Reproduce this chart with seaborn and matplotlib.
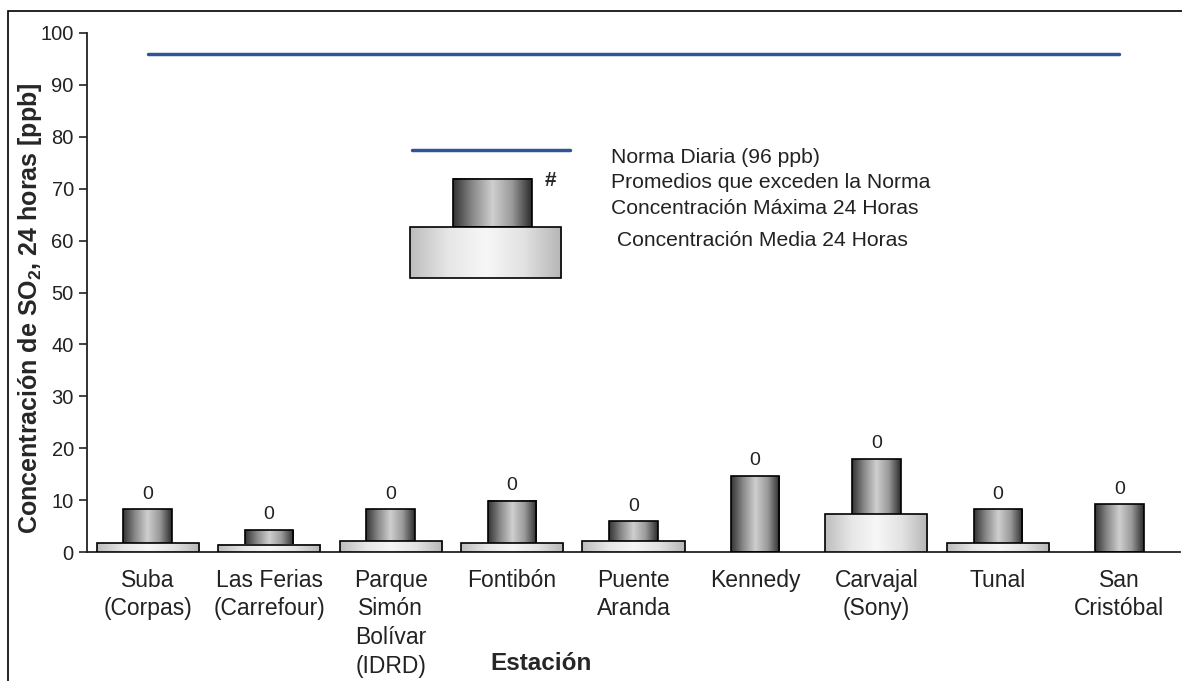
import numpy as np
import pandas as pd
import seaborn as sns
import matplotlib.pyplot as plt
from matplotlib.colors import LinearSegmentedColormap
from matplotlib.patches import Rectangle

# data
estaciones = ['Suba\n(Corpas)', 'Las Ferias\n(Carrefour)', 'Parque\nSimón\nBolívar\n(IDRD)',
              'Fontibón', 'Puente\nAranda', 'Kennedy', 'Carvajal\n(Sony)', 'Tunal', 'San\nCristóbal']
conc_max = [8.2, 4.2, 8.2, 9.9, 5.9, 14.6, 17.9, 8.2, 9.2]
conc_media = [1.7, 1.4, 2.1, 1.7, 2.1, np.nan, 7.3, 1.7, np.nan]
excedencias = [0, 0, 0, 0, 0, 0, 0, 0, 0]
norma = 96

df = pd.DataFrame({'estacion': estaciones, 'max': conc_max, 'media': conc_media})

sns.set_style('white')
plt.rcParams['font.family'] = ['Liberation Sans', 'DejaVu Sans']
plt.rcParams['mathtext.fontset'] = 'custom'
plt.rcParams['mathtext.rm'] = 'Liberation Sans'
plt.rcParams['mathtext.bf'] = 'Liberation Sans:bold'

cmap_max = LinearSegmentedColormap.from_list('mx', ['#333333', '#8a8a8a', '#cfcfcf', '#9a9a9a', '#2b2b2b'])
cmap_med = LinearSegmentedColormap.from_list('md', ['#bdbdbd', '#e6e6e6', '#f7f7f7', '#e2e2e2', '#b5b5b5'])
grad = np.linspace(0, 1, 256).reshape(1, -1)

fig = plt.figure(figsize=(11.82, 6.81), dpi=100)
ax = fig.add_axes([87 / 1182, 1 - 552 / 681, 1093 / 1182, 519 / 681])

# max bars first, mean bars drawn in front of them
sns.barplot(data=df, x='estacion', y='max', width=0.4, color='white', edgecolor='black',
            linewidth=1.2, ax=ax, zorder=3)
n_max = len(ax.patches)
sns.barplot(data=df, x='estacion', y='media', width=0.84, color='white', edgecolor='black',
            linewidth=1.2, ax=ax, zorder=5)

for i, p in enumerate(ax.patches):
    h = p.get_height()
    if not np.isfinite(h) or h <= 0:
        p.set_visible(False)
        continue
    x0, w = p.get_x(), p.get_width()
    is_max = i < n_max
    p.set_facecolor('none')
    ax.imshow(grad, extent=[x0, x0 + w, 0, h], aspect='auto',
              cmap=cmap_max if is_max else cmap_med, zorder=p.get_zorder() - 0.5)

for i, (m, n) in enumerate(zip(conc_max, excedencias)):
    ax.text(i, m + 1.3, str(n), ha='center', va='bottom', fontsize=14, color='#222222')

# daily standard
ax.plot([0, len(estaciones) - 1], [norma, norma], color='#2f5597', lw=2.5, zorder=6)

# hand-made legend
ax.plot([0.297, 0.442], [0.7746, 0.7746], color='#2f5597', lw=2.5, transform=ax.transAxes)
ax.imshow(grad, extent=[0.335, 0.407, 0.626, 0.7187], aspect='auto', cmap=cmap_max,
          transform=ax.transAxes, zorder=3)
ax.add_patch(Rectangle((0.335, 0.626), 0.072, 0.0927, fill=False, ec='black', lw=1.2,
                       transform=ax.transAxes, zorder=3.5))
ax.imshow(grad, extent=[0.2955, 0.4337, 0.528, 0.626], aspect='auto', cmap=cmap_med,
          transform=ax.transAxes, zorder=4)
ax.add_patch(Rectangle((0.2955, 0.528), 0.1382, 0.098, fill=False, ec='black', lw=1.2,
                       transform=ax.transAxes, zorder=4.5))
ax.text(0.4236, 0.716, '#', transform=ax.transAxes, ha='center', va='center',
        fontsize=15, fontweight='bold')
leg_txt = ['Norma Diaria (96 ppb)', 'Promedios que exceden la Norma',
           'Concentración Máxima 24 Horas', ' Concentración Media 24 Horas']
for t, yy in zip(leg_txt, [0.761, 0.711, 0.661, 0.601]):
    ax.text(0.479, yy, t, transform=ax.transAxes, ha='left', va='center',
            fontsize=15.2, color='#222222')

ax.set_xlim(-0.5, len(estaciones) - 0.5)
ax.set_ylim(0, 100)
ax.set_yticks(range(0, 101, 10))
ax.set_xticks(range(len(estaciones)))
ax.set_xticks(np.arange(-0.5, len(estaciones), 1), minor=True)
ax.tick_params(axis='x', which='major', length=0, pad=12, labelsize=16.5, labelcolor='#222222')
ax.tick_params(axis='x', which='minor', length=7, width=1.2, direction='out', color='#222222')
ax.tick_params(axis='y', length=6, width=1.2, direction='out', labelsize=14.5,
               labelcolor='#222222', color='#222222', left=True)
for lab in ax.get_xticklabels():
    lab.set_linespacing(1.32)

sns.despine(ax=ax, top=True, right=True)
for s in ['left', 'bottom']:
    ax.spines[s].set_color('#222222')
    ax.spines[s].set_linewidth(1.3)

ax.set_xlabel('Estación', fontsize=17.5, fontweight='bold')
ax.xaxis.set_label_coords(0.415, -0.192)
ax.set_ylabel(r'Concentración de SO$_\mathbf{2}$, 24 horas [ppb]', fontsize=18, fontweight='bold')
ax.yaxis.set_label_coords(-0.039, 0.47)

# outer frame of the original image
fig.patches.append(Rectangle((8 / 1182, -0.05), 1.2, 1 - 11 / 681 + 0.05, fill=False,
                             ec='black', lw=1.2, transform=fig.transFigure, figure=fig))

fig.savefig('out.png', dpi=100)
